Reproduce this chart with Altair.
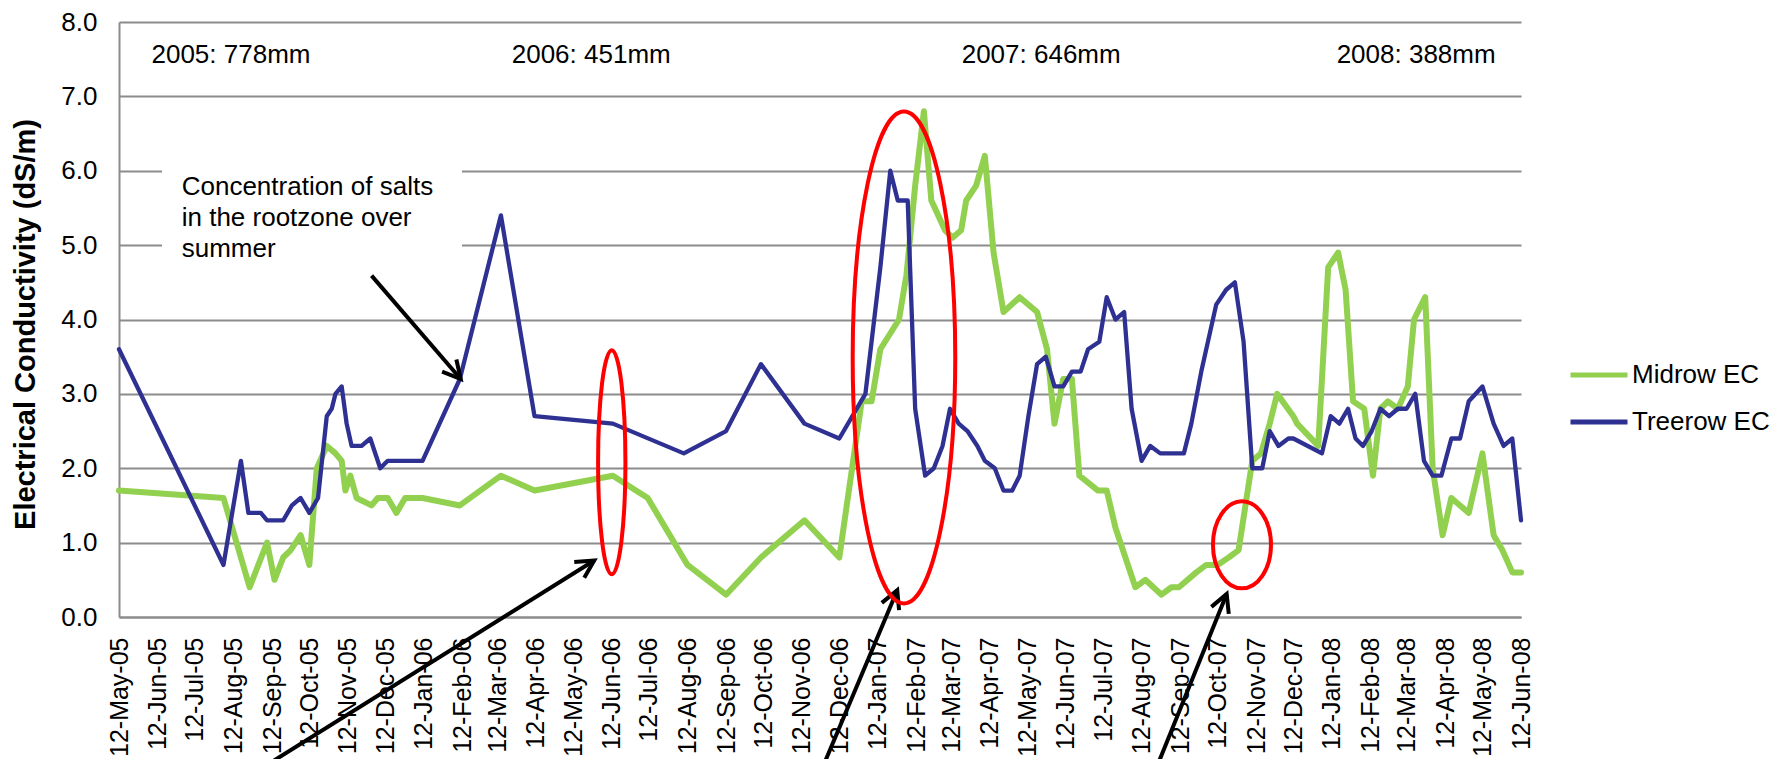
import altair as alt
import pandas as pd

START = pd.Timestamp("2005-05-12")
FONT = "Liberation Sans"
GRID = "#8C8C8C"

# ---- data: sampling day (days after 12-May-05) and EC (dS/m) ----
midrow_day = [0, 84, 105, 119, 125, 132, 138, 146, 153, 159, 167, 174, 179, 182, 186, 191, 203, 208,
              216, 223, 230, 244, 274, 307, 334, 397, 425, 457, 488, 516, 551, 579, 597, 605, 612,
              627, 633, 640, 647, 653, 664, 670, 677, 681, 689, 696, 703, 711, 724, 738, 746, 752,
              759, 766, 772, 787, 794, 801, 817, 825, 838, 846, 852, 866, 874, 883, 892, 900, 911,
              918, 925, 931, 944, 947, 964, 972, 980, 986, 992, 1001, 1008, 1014, 1020, 1028, 1036,
              1041, 1050, 1056, 1064, 1071, 1078, 1085, 1096, 1105, 1112, 1120, 1127]
midrow_ec = [1.7, 1.6, 0.4, 1.0, 0.5, 0.8, 0.9, 1.1, 0.7, 2.0, 2.3, 2.2, 2.1, 1.7, 1.9, 1.6, 1.5, 1.6,
             1.6, 1.4, 1.6, 1.6, 1.5, 1.9, 1.7, 1.9, 1.6, 0.7, 0.3, 0.8, 1.3, 0.8, 2.9, 2.9, 3.6,
             4.0, 4.6, 5.8, 6.8, 5.6, 5.2, 5.1, 5.2, 5.6, 5.8, 6.2, 4.9, 4.1, 4.3, 4.1, 3.6, 2.6,
             3.2, 3.2, 1.9, 1.7, 1.7, 1.2, 0.4, 0.5, 0.3, 0.4, 0.4, 0.6, 0.7, 0.7, 0.8, 0.9, 2.1,
             2.2, 2.6, 3.0, 2.7, 2.6, 2.3, 4.7, 4.9, 4.4, 2.9, 2.8, 1.9, 2.8, 2.9, 2.8, 3.1,
             4.0, 4.3, 2.0, 1.1, 1.6, 1.5, 1.4, 2.2, 1.1, 0.9, 0.6, 0.6]

treerow_day = [0, 84, 98, 104, 114, 119, 132, 139, 146, 153, 160, 167, 171, 174, 179, 183, 187, 195,
               202, 210, 216, 244, 274, 307, 334, 397, 454, 488, 516, 551, 579, 600, 612, 620, 626,
               634, 640, 648, 655, 662, 668, 675, 682, 690, 696, 704, 711, 718, 724, 731, 738, 745,
               752, 759, 766, 773, 779, 788, 794, 801, 808, 814, 822, 829, 837, 856, 862, 870, 882,
               890, 897, 904, 911, 919, 925, 932, 940, 944, 967, 974, 981, 988, 994, 1000, 1007,
               1014, 1021, 1028, 1035, 1042, 1049, 1056, 1063, 1071, 1078, 1085, 1096, 1105, 1113,
               1120, 1127]
treerow_ec = [3.6, 0.7, 2.1, 1.4, 1.4, 1.3, 1.3, 1.5, 1.6, 1.4, 1.6, 2.7, 2.8, 3.0, 3.1, 2.6, 2.3, 2.3,
              2.4, 2.0, 2.1, 2.1, 3.2, 5.4, 2.7, 2.6, 2.2, 2.5, 3.4, 2.6, 2.4, 3.0, 4.7, 6.0, 5.6,
              5.6, 2.8, 1.9, 2.0, 2.3, 2.8, 2.6, 2.5, 2.3, 2.1, 2.0, 1.7, 1.7, 1.9, 2.7, 3.4, 3.5,
              3.1, 3.1, 3.3, 3.3, 3.6, 3.7, 4.3, 4.0, 4.1, 2.8, 2.1, 2.3, 2.2, 2.2, 2.6, 3.3, 4.2,
              4.4, 4.5, 3.7, 2.0, 2.0, 2.5, 2.3, 2.4, 2.4, 2.2, 2.7, 2.6, 2.8, 2.4, 2.3, 2.5,
              2.8, 2.7, 2.8, 2.8, 3.0, 2.1, 1.9, 1.9, 2.4, 2.4, 2.9, 3.1, 2.6, 2.3,
              2.4, 1.3]

series_names = ["Midrow EC", "Treerow EC"]
series_colors = ["#92D050", "#2E3192"]

tick_months = [(2005, m) for m in range(5, 13)] + [(2006, m) for m in range(1, 13)] + \
              [(2007, m) for m in range(1, 13)] + [(2008, m) for m in range(1, 7)]

rain_labels = ["2005: 778mm", "2006: 451mm", "2007: 646mm", "2008: 388mm"]
note_lines = ["Concentration of salts", "in the rootzone over", "summer"]


def iso(day):
    return (START + pd.to_timedelta(day, unit="D")).strftime("%Y-%m-%dT%H:%M:%SZ")


# ---- annotation anchors (day, EC) ----
rain_pos = [(26.1, 7.45), (315.7, 7.45), (677.4, 7.45), (978.8, 7.45)]
note_pos = [(50.4, 5.68), (50.4, 5.26), (50.4, 4.84)]
note_box = (34.6, 6.13, 275.7, 4.67)
arrows = [  # start day, start EC, tip day, tip EC, head angle
    (203.0, 4.59, 274.7, 3.20, 139.5),
    (115.0, -2.03, 382.0, 0.76, 57.8),
    (565.4, -2.03, 625.6, 0.36, 22.7),
    (833.9, -2.03, 890.4, 0.31, 21.9),
]
ellipses = [  # centre day, centre EC, rx/ry, size
    (396.1, 2.08, 0.122, 50176),
    (631.0, 3.49, 0.2085, 242064),
    (902.7, 0.97, 0.667, 7569),
]

xscale = alt.Scale(type="utc", nice=False,
                   domain=[alt.DateTime(year=2005, month=5, date=12, utc=True),
                           alt.DateTime(year=2008, month=6, date=12, utc=True)])
yscale = alt.Scale(domain=[0, 8], nice=False, zero=False)

xaxis = alt.Axis(values=[alt.DateTime(year=y, month=m, date=12, utc=True) for y, m in tick_months],
                 title=None,
                 format="%d-%b-%y", labelAngle=270, labelPadding=20, ticks=False, tickSize=0,
                 grid=False, domainColor=GRID, domainWidth=2, labelFont=FONT, labelFontSize=25,
                 labelColor="black", labelOverlap=False, labelFlush=False, labelBound=False)
yaxis = alt.Axis(values=[0, 1, 2, 3, 4, 5, 6, 7, 8], format=".1f", ticks=False, tickSize=0,
                 title="Electrical Conductivity (dS/m)",
                 grid=True, gridColor=GRID, gridWidth=2, domainColor=GRID, domainWidth=2,
                 labelPadding=22, labelFont=FONT, labelFontSize=26, labelColor="black",
                 titleFont=FONT, titleFontSize=29, titleFontWeight="bold", titleColor="black",
                 titleAngle=270, titleX=-94, titleY=302, titleAlign="center", titleBaseline="middle",
                 labelFlush=False)


def X(f="date"):
    return alt.X(f"{f}:T", scale=xscale, axis=xaxis)


def Y(f="ec"):
    return alt.Y(f"{f}:Q", scale=yscale, axis=yaxis)


mid_df = pd.DataFrame({"date": [iso(d) for d in midrow_day], "ec": midrow_ec, "series": "Midrow EC"})
tree_df = pd.DataFrame({"date": [iso(d) for d in treerow_day], "ec": treerow_ec, "series": "Treerow EC"})

color = alt.Color("series:N", title=None,
                  scale=alt.Scale(domain=series_names, range=series_colors),
                  legend=alt.Legend(orient="none", legendX=1449, legendY=322, direction="vertical",
                                    symbolType="stroke", symbolSize=3249, symbolStrokeWidth=5,
                                    labelFont=FONT, labelFontSize=26, labelColor="black",
                                    labelOffset=2, rowPadding=3, padding=0))

box_df = pd.DataFrame({"date": [iso(note_box[0])], "ec": [note_box[1]],
                       "date2": [iso(note_box[2])], "ec2": [note_box[3]]})
box = alt.Chart(box_df).mark_rect(color="white").encode(x=X(), x2="date2:T", y=Y(), y2="ec2:Q")

line_mid = alt.Chart(mid_df).mark_line(strokeWidth=6, strokeJoin="round", strokeCap="round").encode(
    x=X(), y=Y(), color=color)
line_tree = alt.Chart(tree_df).mark_line(strokeWidth=4.3, strokeJoin="round", strokeCap="round").encode(
    x=X(), y=Y(), color=color)

rain_df = pd.DataFrame({"date": [iso(p[0]) for p in rain_pos], "ec": [p[1] for p in rain_pos],
                        "label": rain_labels})
rain = alt.Chart(rain_df).mark_text(align="left", baseline="alphabetic", font=FONT, fontSize=26,
                                    color="black").encode(x=X(), y=Y(), text="label:N")

note_df = pd.DataFrame({"date": [iso(p[0]) for p in note_pos], "ec": [p[1] for p in note_pos],
                        "label": note_lines})
note = alt.Chart(note_df).mark_text(align="left", baseline="alphabetic", font=FONT, fontSize=26,
                                    color="black").encode(x=X(), y=Y(), text="label:N")

layers = [box, line_mid, line_tree, rain, note]

for sd, sv, td, tv, ang in arrows:
    adf = pd.DataFrame({"date": [iso(sd)], "ec": [sv], "date2": [iso(td)], "ec2": [tv]})
    layers.append(alt.Chart(adf).mark_rule(color="black", strokeWidth=4).encode(
        x=X(), x2="date2:T", y=Y(), y2="ec2:Q"))
    hdf = pd.DataFrame({"date": [iso(td)], "ec": [tv]})
    layers.append(alt.Chart(hdf).mark_point(shape="M-0.53,1L0,0L0.53,1", size=1250, angle=ang,
                                            filled=False, stroke="black", strokeWidth=4,
                                            opacity=1).encode(x=X(), y=Y()))

k = 0.5523
for cd, cv, r, sz in ellipses:
    path = (f"M0,-1 C{k*r:.4f},-1 {r:.4f},{-k:.4f} {r:.4f},0 "
            f"C{r:.4f},{k:.4f} {k*r:.4f},1 0,1 "
            f"C{-k*r:.4f},1 {-r:.4f},{k:.4f} {-r:.4f},0 "
            f"C{-r:.4f},{-k:.4f} {-k*r:.4f},-1 0,-1 Z")
    edf = pd.DataFrame({"date": [iso(cd)], "ec": [cv]})
    layers.append(alt.Chart(edf).mark_point(shape=path, size=sz, filled=False, stroke="#FF0000",
                                            strokeWidth=4, opacity=1).encode(x=X(), y=Y()))

chart = alt.layer(*layers).properties(
    width=1402, height=595,
    padding={"left": 111, "top": 14, "right": 256, "bottom": 142},
    autosize=alt.AutoSizeParams(type="none"),
).configure_view(stroke="transparent")

chart.save("out.html", embed_options={"renderer": "svg", "actions": False})
